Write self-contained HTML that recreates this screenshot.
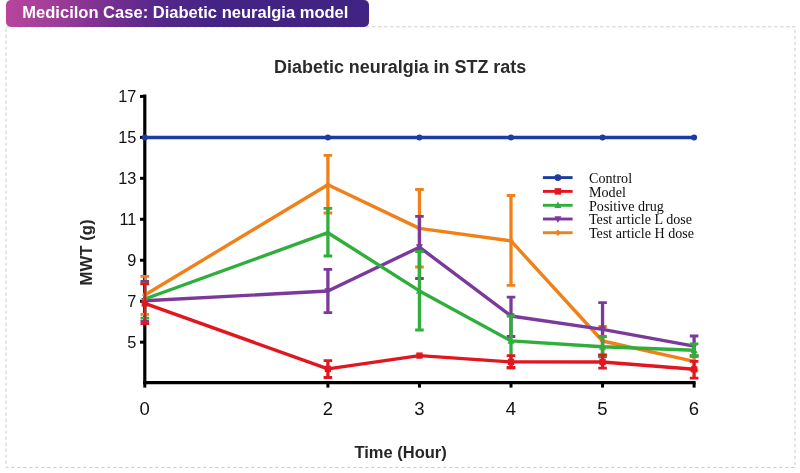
<!DOCTYPE html>
<html><head><meta charset="utf-8"><title>Medicilon Case: Diabetic neuralgia model</title>
<style>
html,body{margin:0;padding:0;background:#fff;}
body{width:800px;height:473px;overflow:hidden;position:relative;font-family:"Liberation Sans",sans-serif;}
.banner{position:absolute;left:6px;top:0;width:363px;height:27px;border-radius:5px;background:linear-gradient(90deg,#b7449c 0%,#a23f98 12%,#7a3090 27%,#55278a 42%,#432484 58%,#412383 100%);color:#fff;font-weight:bold;font-size:16.55px;line-height:25px;white-space:nowrap;z-index:2;will-change:transform;}
.banner span{position:absolute;left:16.3px;top:0;}
svg{position:absolute;left:0;top:0;will-change:transform;}
.tk{font-family:"Liberation Sans",sans-serif;font-size:16.3px;fill:#111;}
.lg{font-family:"Liberation Serif",serif;font-size:14.1px;fill:#0c0c0c;}
.ti{font-family:"Liberation Sans",sans-serif;font-weight:bold;font-size:17.95px;fill:#2b2b2b;}
.ax{font-family:"Liberation Sans",sans-serif;font-weight:bold;font-size:16.5px;fill:#262626;}
</style></head>
<body>
<div class="banner"><span>Medicilon Case: Diabetic neuralgia model</span></div>
<svg width="800" height="473" viewBox="0 0 800 473">
<rect x="6" y="26.8" width="789" height="440.6" fill="none" stroke="#cdcdcd" stroke-width="1" stroke-dasharray="3.5 2.5"/>
<text x="400.2" y="73" text-anchor="middle" class="ti">Diabetic neuralgia in STZ rats</text>
<text x="400.6" y="457.6" text-anchor="middle" class="ax">Time (Hour)</text>
<text transform="translate(92.2 252.4) rotate(-90)" text-anchor="middle" class="ax" style="font-size:16.8px">MWT (g)</text>
<path d="M144.8 94.5V384.3" stroke="#000" stroke-width="3.2" fill="none"/>
<path d="M143.3 382.7H695.6" stroke="#000" stroke-width="3.2" fill="none"/>
<path d="M140 96.4H144.8" stroke="#000" stroke-width="3"/>
<text x="136.4" y="101.5" text-anchor="end" class="tk">17</text>
<path d="M140 137.36H144.8" stroke="#000" stroke-width="3"/>
<text x="136.4" y="142.5" text-anchor="end" class="tk">15</text>
<path d="M140 178.32H144.8" stroke="#000" stroke-width="3"/>
<text x="136.4" y="183.5" text-anchor="end" class="tk">13</text>
<path d="M140 219.28H144.8" stroke="#000" stroke-width="3"/>
<text x="136.4" y="224.5" text-anchor="end" class="tk">11</text>
<path d="M140 260.24H144.8" stroke="#000" stroke-width="3"/>
<text x="136.4" y="265.5" text-anchor="end" class="tk">9</text>
<path d="M140 301.2H144.8" stroke="#000" stroke-width="3"/>
<text x="136.4" y="306.5" text-anchor="end" class="tk">7</text>
<path d="M140 342.16H144.8" stroke="#000" stroke-width="3"/>
<text x="136.4" y="347.5" text-anchor="end" class="tk">5</text>
<path d="M144.8 382.7V387.6" stroke="#000" stroke-width="3"/>
<text x="144.70000000000002" y="414.6" text-anchor="middle" class="tk" style="font-size:18.5px">0</text>
<path d="M327.9 382.7V387.6" stroke="#000" stroke-width="3"/>
<text x="327.79999999999995" y="414.6" text-anchor="middle" class="tk" style="font-size:18.5px">2</text>
<path d="M419.45 382.7V387.6" stroke="#000" stroke-width="3"/>
<text x="419.34999999999997" y="414.6" text-anchor="middle" class="tk" style="font-size:18.5px">3</text>
<path d="M511.0 382.7V387.6" stroke="#000" stroke-width="3"/>
<text x="510.9" y="414.6" text-anchor="middle" class="tk" style="font-size:18.5px">4</text>
<path d="M602.55 382.7V387.6" stroke="#000" stroke-width="3"/>
<text x="602.4499999999999" y="414.6" text-anchor="middle" class="tk" style="font-size:18.5px">5</text>
<path d="M694.1 382.7V387.6" stroke="#000" stroke-width="3"/>
<text x="694.0" y="414.6" text-anchor="middle" class="tk" style="font-size:18.5px">6</text>
<g stroke="#f08019" fill="none">
<path d="M145.10000000000002 276.3V314.4" stroke-width="2"/><path d="M140.5 276.3H149.10000000000002M140.5 314.4H149.10000000000002" stroke-width="2.8"/>
<path d="M327.9 155.4V213" stroke-width="3.3"/><path d="M323.59999999999997 155.4H332.2M323.59999999999997 213H332.2" stroke-width="2.8"/>
<path d="M419.45 189.5V267" stroke-width="3.3"/><path d="M415.15 189.5H423.75M415.15 267H423.75" stroke-width="2.8"/>
<path d="M511.0 195.5V285.4" stroke-width="3.3"/><path d="M506.7 195.5H515.3M506.7 285.4H515.3" stroke-width="2.8"/>
<path d="M602.55 326.5V355.5" stroke-width="3.3"/><path d="M598.25 326.5H606.8499999999999M598.25 355.5H606.8499999999999" stroke-width="2.8"/>
<path d="M694.1 356V370" stroke-width="3.3"/><path d="M689.8000000000001 356H698.4M689.8000000000001 370H698.4" stroke-width="2.8"/>
<path d="M144.8 295L327.9 184.8L419.45 228.4L511.0 240.9L602.55 341L694.1 361.3" stroke-width="3.4" stroke-linejoin="round"/>
</g>
<path d="M141.94 295L144.8 291.7L147.66000000000003 295L144.8 298.3Z" fill="#f08019"/>
<path d="M325.03999999999996 184.8L327.9 181.5L330.76 184.8L327.9 188.10000000000002Z" fill="#f08019"/>
<path d="M416.59 228.4L419.45 225.1L422.31 228.4L419.45 231.70000000000002Z" fill="#f08019"/>
<path d="M508.14 240.9L511.0 237.6L513.86 240.9L511.0 244.20000000000002Z" fill="#f08019"/>
<path d="M599.6899999999999 341L602.55 337.7L605.41 341L602.55 344.3Z" fill="#f08019"/>
<path d="M691.24 361.3L694.1 358.0L696.96 361.3L694.1 364.6Z" fill="#f08019"/>
<g stroke="#7b3a9b" fill="none">
<path d="M145.10000000000002 281.5V321.3" stroke-width="2"/><path d="M140.5 281.5H149.10000000000002M140.5 321.3H149.10000000000002" stroke-width="2.8"/>
<path d="M327.9 269.3V312.7" stroke-width="3.3"/><path d="M323.59999999999997 269.3H332.2M323.59999999999997 312.7H332.2" stroke-width="2.8"/>
<path d="M419.45 216.4V278.5" stroke-width="3.3"/><path d="M415.15 216.4H423.75M415.15 278.5H423.75" stroke-width="2.8"/>
<path d="M511.0 297.2V336.5" stroke-width="3.3"/><path d="M506.7 297.2H515.3M506.7 336.5H515.3" stroke-width="2.8"/>
<path d="M602.55 302.6V356.9" stroke-width="3.3"/><path d="M598.25 302.6H606.8499999999999M598.25 356.9H606.8499999999999" stroke-width="2.8"/>
<path d="M694.1 336V356" stroke-width="3.3"/><path d="M689.8000000000001 336H698.4M689.8000000000001 356H698.4" stroke-width="2.8"/>
<path d="M144.8 300.8L327.9 291L419.45 247.2L511.0 316L602.55 329.4L694.1 346.2" stroke-width="3.4" stroke-linejoin="round"/>
</g>
<path d="M141.28 297.94L148.32000000000002 297.94L144.8 304.76Z" fill="#7b3a9b"/>
<path d="M324.38 288.14L331.41999999999996 288.14L327.9 294.96Z" fill="#7b3a9b"/>
<path d="M415.93 244.33999999999997L422.96999999999997 244.33999999999997L419.45 251.16Z" fill="#7b3a9b"/>
<path d="M507.48 313.14L514.52 313.14L511.0 319.96Z" fill="#7b3a9b"/>
<path d="M599.03 326.53999999999996L606.0699999999999 326.53999999999996L602.55 333.35999999999996Z" fill="#7b3a9b"/>
<path d="M690.58 343.34L697.62 343.34L694.1 350.15999999999997Z" fill="#7b3a9b"/>
<g stroke="#2fae3b" fill="none">
<path d="M145.10000000000002 283.7V318.1" stroke-width="2"/><path d="M140.5 283.7H149.10000000000002M140.5 318.1H149.10000000000002" stroke-width="2.8"/>
<path d="M327.9 208.3V256" stroke-width="3.3"/><path d="M323.59999999999997 208.3H332.2M323.59999999999997 256H332.2" stroke-width="2.8"/>
<path d="M419.45 251.5V330" stroke-width="3.3"/><path d="M415.15 251.5H423.75M415.15 330H423.75" stroke-width="2.8"/>
<path d="M511.0 316V368" stroke-width="3.3"/><path d="M506.7 316H515.3M506.7 368H515.3" stroke-width="2.8"/>
<path d="M602.55 336.5V356" stroke-width="3.3"/><path d="M598.25 336.5H606.8499999999999M598.25 356H606.8499999999999" stroke-width="2.8"/>
<path d="M694.1 343.8V356" stroke-width="3.3"/><path d="M689.8000000000001 343.8H698.4M689.8000000000001 356H698.4" stroke-width="2.8"/>
<path d="M144.8 299L327.9 232.7L419.45 290.9L511.0 340.9L602.55 346.8L694.1 350.3" stroke-width="3.4" stroke-linejoin="round"/>
</g>
<path d="M141.28 301.86L148.32000000000002 301.86L144.8 295.04Z" fill="#2fae3b"/>
<path d="M324.38 235.56L331.41999999999996 235.56L327.9 228.73999999999998Z" fill="#2fae3b"/>
<path d="M415.93 293.76L422.96999999999997 293.76L419.45 286.94Z" fill="#2fae3b"/>
<path d="M507.48 343.76L514.52 343.76L511.0 336.94Z" fill="#2fae3b"/>
<path d="M599.03 349.66L606.0699999999999 349.66L602.55 342.84000000000003Z" fill="#2fae3b"/>
<path d="M690.58 353.16L697.62 353.16L694.1 346.34000000000003Z" fill="#2fae3b"/>
<g stroke="#e2161f" fill="none">
<path d="M145.10000000000002 283.9V323.6" stroke-width="2"/><path d="M140.5 283.9H149.10000000000002M140.5 323.6H149.10000000000002" stroke-width="2.8"/>
<path d="M327.9 360.6V377.5" stroke-width="3.3"/><path d="M323.59999999999997 360.6H332.2M323.59999999999997 377.5H332.2" stroke-width="2.8"/>
<path d="M511.0 355.6V367.5" stroke-width="3.3"/><path d="M506.7 355.6H515.3M506.7 367.5H515.3" stroke-width="2.8"/>
<path d="M602.55 354.8V368.1" stroke-width="3.3"/><path d="M598.25 354.8H606.8499999999999M598.25 368.1H606.8499999999999" stroke-width="2.8"/>
<path d="M694.1 361.3V378.2" stroke-width="3.3"/><path d="M689.8000000000001 361.3H698.4M689.8000000000001 378.2H698.4" stroke-width="2.8"/>
<path d="M144.8 303.4L327.9 368.9L419.45 355.6L511.0 361.9L602.55 362L694.1 369.3" stroke-width="3.4" stroke-linejoin="round"/>
</g>
<rect x="141.65" y="300.25" width="6.300000000000001" height="6.300000000000001" fill="#e2161f"/>
<rect x="324.75" y="365.75" width="6.300000000000001" height="6.300000000000001" fill="#e2161f"/>
<rect x="416.3" y="352.45000000000005" width="6.300000000000001" height="6.300000000000001" fill="#e2161f"/>
<rect x="507.85" y="358.75" width="6.300000000000001" height="6.300000000000001" fill="#e2161f"/>
<rect x="599.4" y="358.85" width="6.300000000000001" height="6.300000000000001" fill="#e2161f"/>
<rect x="690.95" y="366.15000000000003" width="6.300000000000001" height="6.300000000000001" fill="#e2161f"/>
<g stroke="#1c3ca0" fill="none">
<path d="M144.8 137.5L327.9 137.5L419.45 137.5L511.0 137.5L602.55 137.5L694.1 137.5" stroke-width="3.4" stroke-linejoin="round"/>
</g>
<circle cx="144.8" cy="137.5" r="3.008" fill="#1c3ca0"/>
<circle cx="327.9" cy="137.5" r="3.008" fill="#1c3ca0"/>
<circle cx="419.45" cy="137.5" r="3.008" fill="#1c3ca0"/>
<circle cx="511.0" cy="137.5" r="3.008" fill="#1c3ca0"/>
<circle cx="602.55" cy="137.5" r="3.008" fill="#1c3ca0"/>
<circle cx="694.1" cy="137.5" r="3.008" fill="#1c3ca0"/>
<path d="M542.9 177.6H572.6" stroke="#1c3ca0" stroke-width="2.9"/>
<circle cx="557.9" cy="177.6" r="3.4560000000000004" fill="#1c3ca0"/>
<text x="589" y="182.9" class="lg">Control</text>
<path d="M542.9 191.4H572.6" stroke="#e2161f" stroke-width="2.9"/>
<rect x="554.66" y="188.16" width="6.48" height="6.48" fill="#e2161f"/>
<text x="589" y="196.70000000000002" class="lg">Model</text>
<path d="M542.9 205.3H572.6" stroke="#2fae3b" stroke-width="2.9"/>
<path d="M554.444 208.108L561.356 208.108L557.9 201.412Z" fill="#2fae3b"/>
<text x="589" y="210.60000000000002" class="lg">Positive drug</text>
<path d="M542.9 219H572.6" stroke="#7b3a9b" stroke-width="2.9"/>
<path d="M554.444 216.192L561.356 216.192L557.9 222.888Z" fill="#7b3a9b"/>
<text x="589" y="224.3" class="lg">Test article L dose</text>
<path d="M542.9 232.7H572.6" stroke="#f08019" stroke-width="2.9"/>
<path d="M555.092 232.7L557.9 229.45999999999998L560.708 232.7L557.9 235.94Z" fill="#f08019"/>
<text x="589" y="238.0" class="lg">Test article H dose</text>
</svg>
</body></html>
